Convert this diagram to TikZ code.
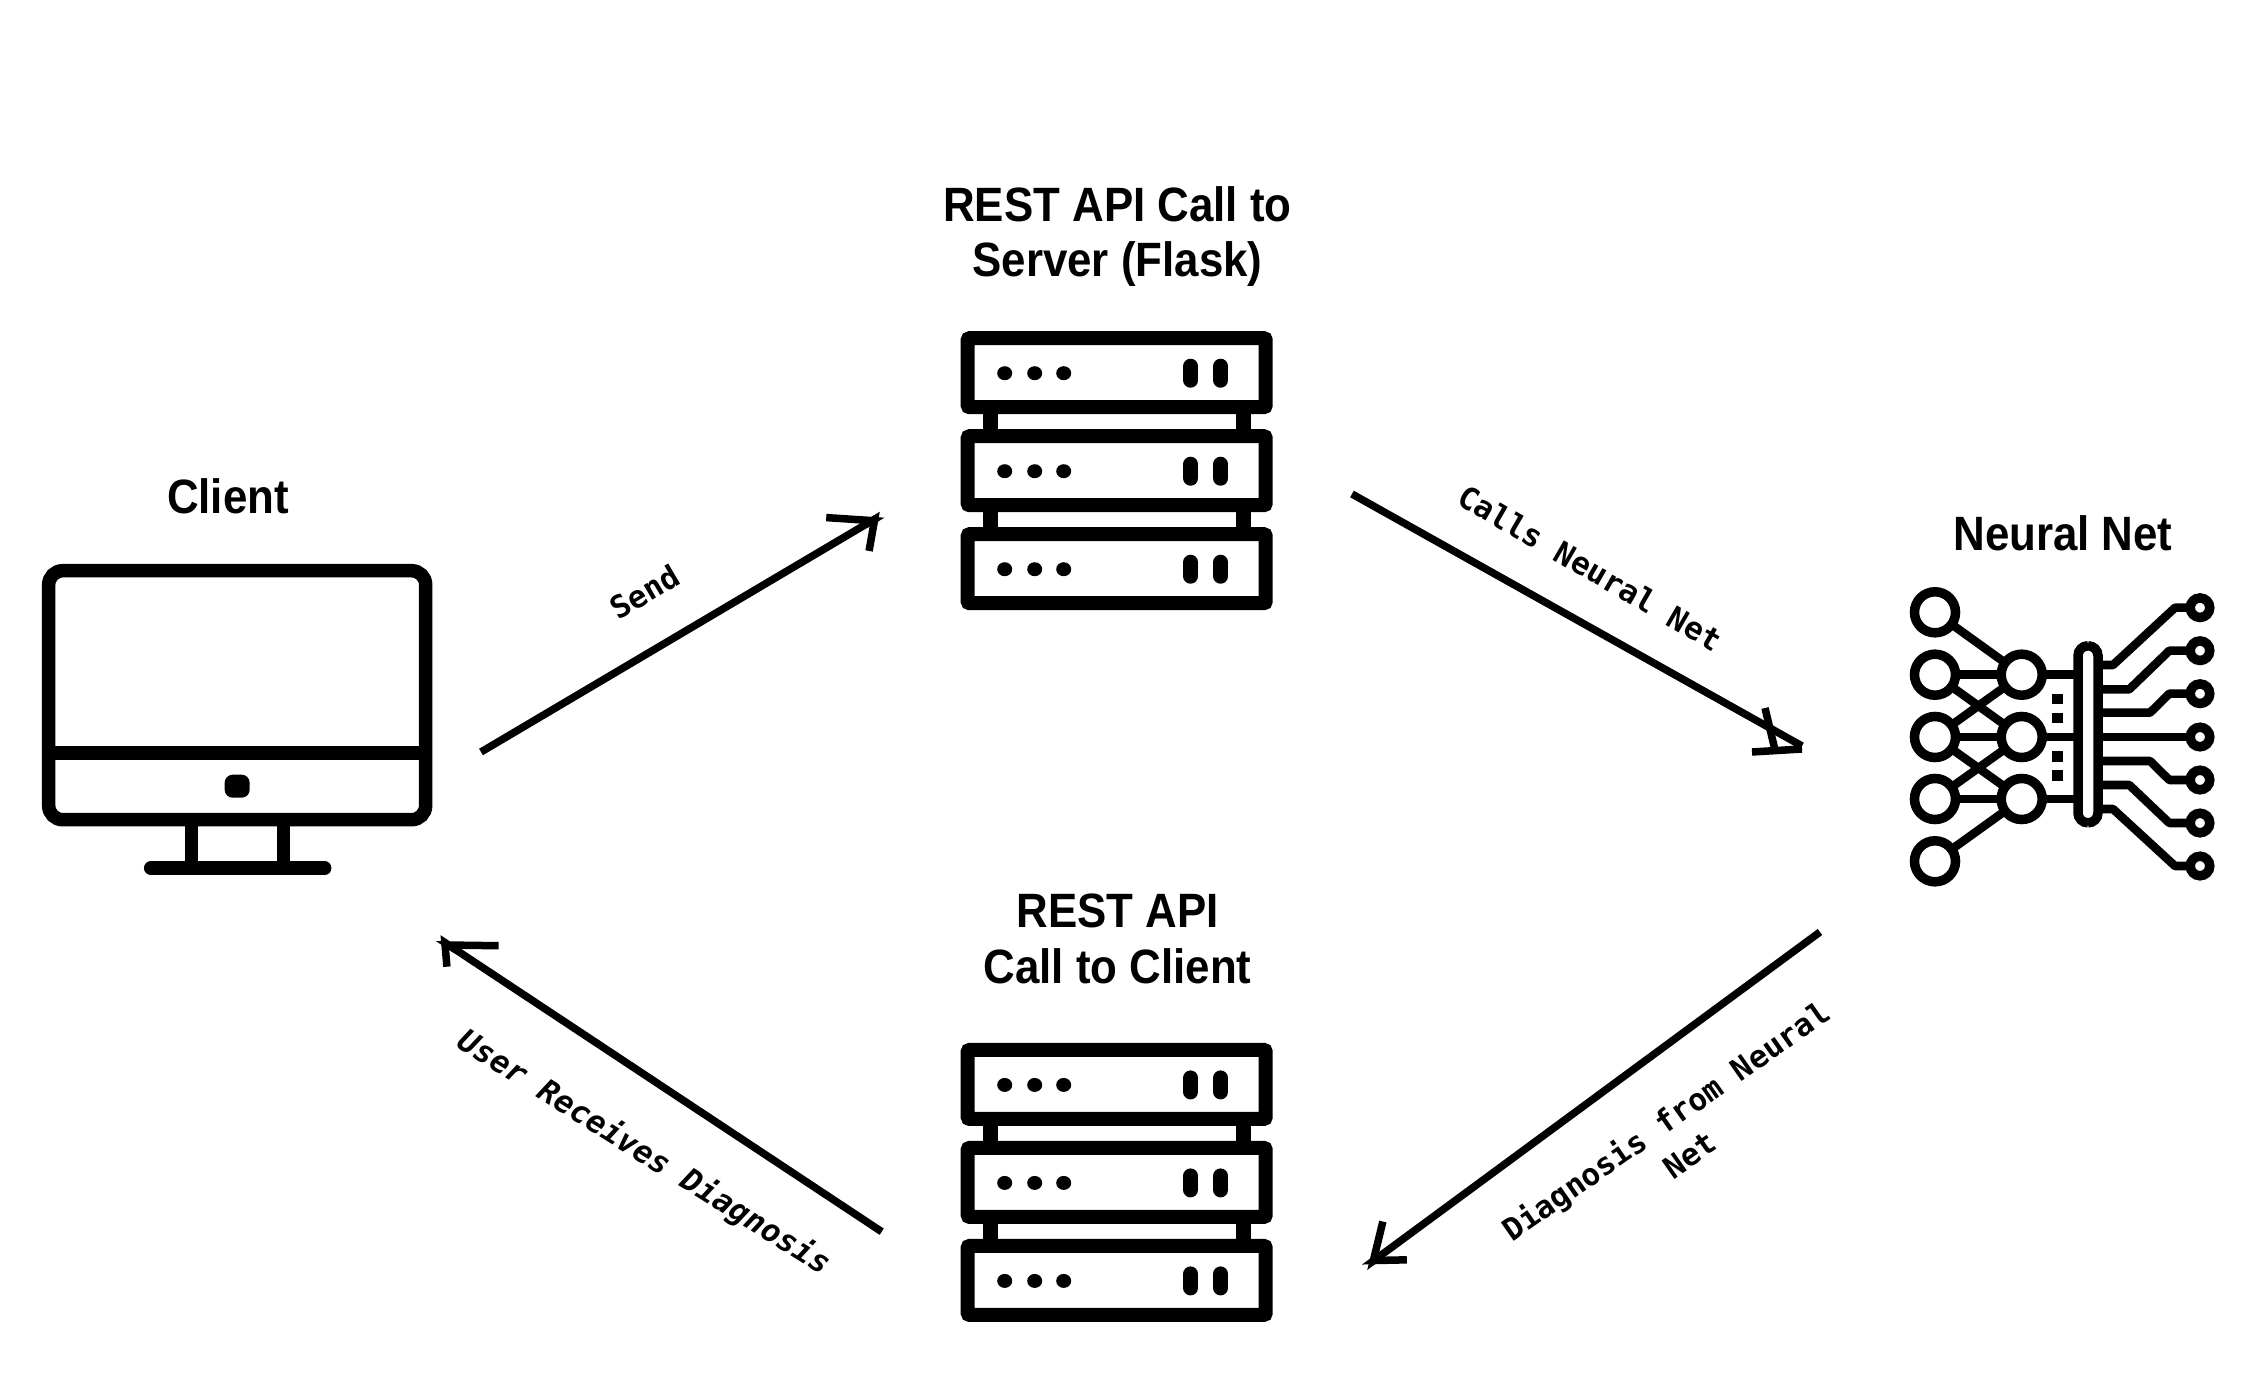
\documentclass[tikz,border=0pt]{standalone}
\usepackage{fontspec}
\usepackage{tikz}
\usetikzlibrary{arrows.meta, positioning}
\setmainfont[FakeStretch=0.91]{Liberation Sans}
\newfontfamily\labelfont{DejaVu Sans Mono}

\tikzset{
  title/.style={inner sep=0pt, align=center, font=\fontsize{13.7}{15.9}\selectfont\bfseries},
  linklabel/.style={inner sep=0pt, align=center, font=\labelfont\fontsize{8.8}{11.7}\selectfont\bfseries},
  iconbox/.style={inner sep=0pt, minimum width=3.12cm, minimum height=2.8cm},
  rack/.style={draw, line width=0.14cm, fill=white, rounded corners=0.02cm},
  flow/.style={draw, line width=0.075cm},
  arrow/.style n args={5}{flow, -{Straight Barb[left, length=#1cm, width=#2cm, sep=-#5cm]
                                  Straight Barb[right, length=#3cm, width=#4cm]}},
  neuron/.style={draw, circle, line width=0.095cm, fill=white, minimum size=0.41cm, inner sep=0pt, outer sep=0pt},
  pin/.style={draw, circle, line width=0.095cm, fill=white, minimum size=0.195cm, inner sep=0pt, outer sep=0pt},
  wire/.style={draw, line width=0.085cm, line join=round},
  serverstack/.pic={
    \foreach \row in {0,98,196} {
      \draw [rack] (7,7+\row) rectangle (305,76+\row);
      \foreach \dotx in {44,74,103}
        \fill (\dotx,42+\row) ellipse (0.075cm and 0.07cm);
      \foreach \barx in {230,260}
        \draw [line width=0.15cm, line cap=round] (\barx,35+\row) -- (\barx,49+\row);
    }
    \foreach \row in {83,181} {
      \fill (22,\row) rectangle (37,\row+15);
      \fill (275,\row) rectangle (290,\row+15);
    }
  },
  monitor/.pic={
    \draw [line width=0.135cm, rounded corners=0.14cm] (7,7) rectangle (384,256);
    \draw [line width=0.135cm] (7,189.5) -- (384,189.5);
    \fill [rounded corners=0.08cm] (183,211) rectangle (208,234);
    \draw [line width=0.135cm] (150,256) -- (150,304);
    \draw [line width=0.135cm] (242,256) -- (242,304);
    \draw [line width=0.135cm, line cap=round] (109,304.5) -- (283,304.5);
  }
}

\begin{document}
\begin{tikzpicture}[x=0.01cm, y=-0.01cm]
\useasboundingbox (0,0) rectangle (2253,1388);

% Icons
\node (client) [iconbox, minimum width=3.91cm, minimum height=3.11cm] at (238,720) {};
\node (flask)  [iconbox] at (1117.5,472) {};
\node (reply)  [iconbox] at (1117.5,1183.7) {};
\pic at (client.north west) {monitor};
\pic at (flask.north west) {serverstack};
\pic at (reply.north west) {serverstack};

% Titles
\node (clienttitle) [title, above=0.49cm of client, xshift=-0.1cm] {Client};
\node (flasktitle)  [title, above=0.435cm of flask] {REST API Call to\\Server (Flask)};
\node (replytitle)  [title, above=0.585cm of reply] {REST API\\Call to Client};
\node (nettitle)    [title] at (2063,533) {Neural Net};

% Neural net: input and hidden circles
\foreach \n/\y in {1/612.3,2/674.7,3/737,4/799,5/861.3}
  \node (in\n) [neuron] at (1935,\y) {};
\foreach \n/\y in {1/674.7,2/737,3/799}
  \node (hid\n) [neuron] at (2021.7,\y) {};

% Bus bar in the middle
\node (bus) [draw, line width=0.095cm, fill=white, rounded corners=0.1cm, inner sep=0pt, outer sep=0pt,
             minimum width=0.2cm, minimum height=1.77cm] at (2088,734.3) {};

\foreach \a/\b in {1/1,2/1,2/2,3/1,3/2,3/3,4/2,4/3,5/3}
  \draw [wire] (in\a) -- (hid\b);
\foreach \n in {1,2,3}
  \draw [wire] (hid\n) -- (bus.west |- hid\n);

% Small squares between the hidden circles
\foreach \y in {698.8,718,756.3,775.3}
  \fill (2052.3,\y-5.3) rectangle (2063,\y+5.3);

% Output pins and their traces
\foreach \n/\y/\ya/\xa/\xb in {1/607.7/665/2113/2175, 2/650.7/689.3/2129.3/2169.3,
    3/693.7/712.7/2150/2169.3, 4/737/737/2150/2169.3, 5/780/761/2150/2169.3,
    6/823/785/2129.3/2169.3, 7/866/809/2113/2175} {
  \node (out\n) [pin] at (2200,\y) {};
  \draw [wire] (bus.east |- 0,\ya) -- (\xa,\ya) -- (\xb,\y) -- (out\n);
}

% Ends of the connectors
\coordinate (sendstart) at (481,752);
\coordinate (sendtip)   at (881.7,515);
\coordinate (callstart) at (1352,494);
\coordinate (calltip)   at (1802,746);
\coordinate (calla)     at (1765,708);
\coordinate (callb)     at (1775,750);
\coordinate (callc)     at (1752,752);
\coordinate (calld)     at (1802,749);
\coordinate (diagstart) at (1820,932);
\coordinate (diagtip)   at (1365,1267);
\coordinate (userstart) at (881.7,1231.7);
\coordinate (usertip)   at (438,938);

% Connections
\draw [arrow={0.38}{0.52}{0.21}{0.49}{0.34}] (sendstart) -- (sendtip);
\draw [flow]  (callstart) -- (calltip);
\draw [flow]  (calla) -- (callb);
\draw [flow]  (callc) -- (calld);
\draw [arrow={0.27}{0.38}{0.31}{0.52}{0.46}] (diagstart) -- (diagtip);
\draw [arrow={0.15}{0.38}{0.42}{0.54}{0.58}] (userstart) -- (usertip);

% Connector labels
\node (sendlabel) [linklabel, rotate=30.5] at (645,592) {Send};
\node (calllabel) [linklabel, rotate=-30] at (1590,568) {Calls Neural Net};
\node (diaglabel) [linklabel, rotate=35] at (1677,1137) {Diagnosis from Neural\\Net};
\node (userlabel) [linklabel, rotate=-32] at (644,1153) {\itshape\fontsize{8.9}{11.7}\selectfont User Receives Diagnosis};

\end{tikzpicture}
\end{document}
